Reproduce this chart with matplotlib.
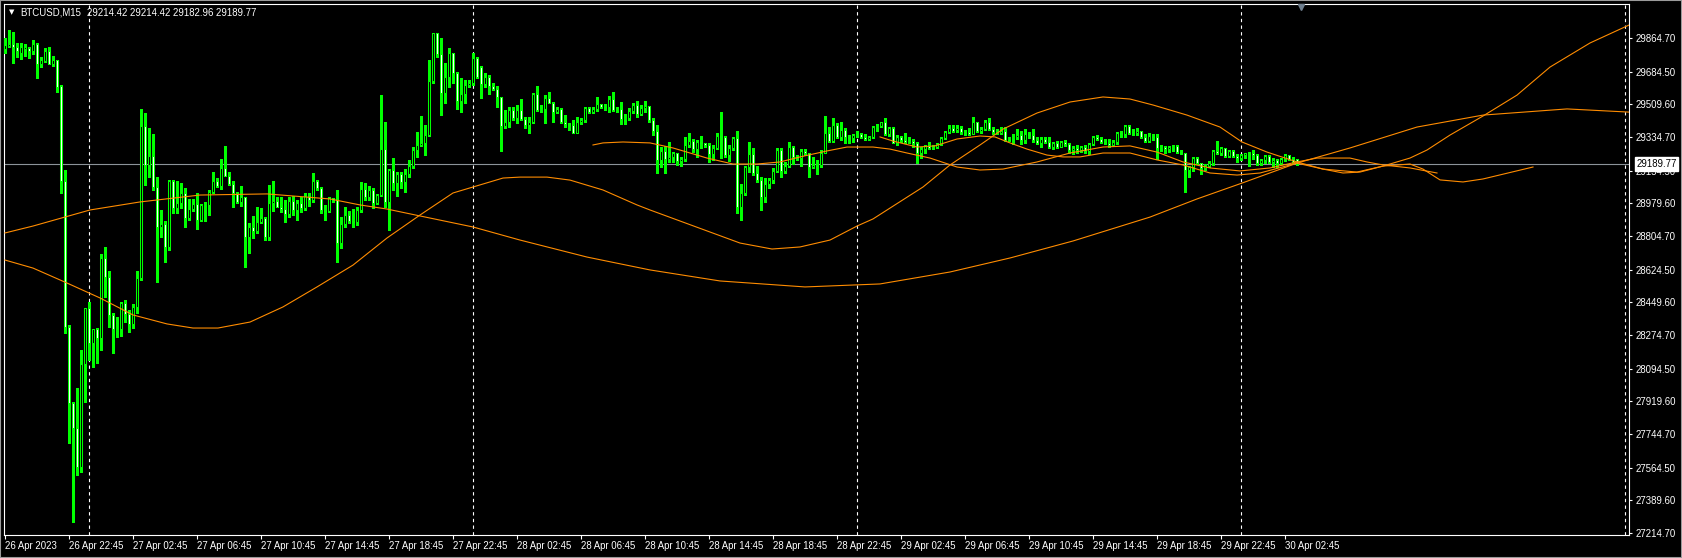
import numpy as np
import matplotlib
matplotlib.use("Agg")
import matplotlib.pyplot as plt
from matplotlib import transforms
from matplotlib.patches import Rectangle

plt.rcParams["font.family"] = ["Liberation Sans", "DejaVu Sans"]

# BTCUSD M15, first bar = 26 Apr 2023 18:45
open_ = [
    29804, 29822, 29831, 29815, 29786, 29807, 29809, 29797, 29833, 29724,
    29743, 29795, 29727, 29748, 29608, 29101, 28316, 27909, 27775, 27570,
    28118, 28417, 28230, 28305, 28257, 28685, 28583, 28382, 28305, 28305,
    28448, 28387, 28332, 28423, 28578, 29395, 29185, 29233, 29069, 28855,
    28869, 28748, 29101, 28953, 28983, 29037, 28899, 28947, 28976, 28890,
    28971, 28971, 29042, 29097, 29074, 29167, 29128, 29083, 29033, 28988,
    29012, 28801, 28855, 28833, 28878, 28899, 28801, 28980, 28994, 28962,
    28947, 28921, 28994, 28944, 28980, 28953, 29021, 28997, 29101, 29060,
    28944, 28940, 29006, 28999, 28769, 28869, 28917, 28885, 28881, 28944,
    29055, 29015, 29051, 28980, 29024, 29269, 28988, 29158, 29087, 29136,
    29096, 29136, 29179, 29265, 29290, 29301, 29345, 29635, 29890, 29777,
    29568, 29654, 29783, 29675, 29529, 29565, 29613, 29622, 29758, 29708,
    29617, 29654, 29608, 29590, 29547, 29395, 29417, 29479, 29435, 29479,
    29432, 29399, 29417, 29565, 29479, 29483, 29542, 29518, 29467, 29485,
    29417, 29403, 29397, 29358, 29414, 29426, 29488, 29470, 29483, 29511,
    29493, 29493, 29536, 29479, 29486, 29431, 29435, 29476, 29506, 29456,
    29492, 29501, 29426, 29367, 29212, 29261, 29215, 29227, 29247, 29208,
    29215, 29292, 29312, 29269, 29306, 29301, 29290, 29244, 29276, 29340,
    29333, 29238, 29276, 29329, 28962, 29033, 29176, 29242, 29140, 29104,
    29015, 29083, 29104, 29153, 29265, 29153, 29179, 29279, 29229, 29221,
    29262, 29247, 29172, 29183, 29187, 29251, 29358, 29315, 29397, 29333,
    29372, 29333, 29328, 29344, 29351, 29333, 29326, 29337, 29387, 29394,
    29413, 29351, 29381, 29304, 29333, 29319, 29310, 29315, 29304, 29251,
    29269, 29287, 29274, 29279, 29297, 29328, 29360, 29381, 29372, 29381,
    29360, 29363, 29351, 29413, 29369, 29376, 29413, 29376, 29363, 29358,
    29369, 29322, 29331, 29336, 29345, 29319, 29351, 29345, 29319, 29304,
    29322, 29310, 29279, 29301, 29279, 29306, 29295, 29265, 29274, 29265,
    29279, 29260, 29297, 29336, 29322, 29310, 29301, 29292, 29310, 29354,
    29350, 29394, 29358, 29354, 29369, 29336, 29315, 29342, 29333, 29274,
    29283, 29269, 29279, 29287, 29256, 29247, 29158, 29172, 29220, 29194,
    29167, 29179, 29197, 29260, 29247, 29274, 29233, 29260, 29233, 29220,
    29238, 29247, 29251, 29238, 29194, 29212, 29233, 29203, 29212, 29197,
    29217, 29238, 29215, 29214.42,
]
high = [
    29863, 29907, 29899, 29836, 29836, 29833, 29818, 29854, 29840, 29761,
    29809, 29815, 29768, 29748, 29611, 29158, 28328, 27918, 27989, 28194,
    28417, 28453, 28305, 28310, 28708, 28744, 28619, 28391, 28369, 28453,
    28462, 28408, 28440, 28619, 29483, 29461, 29381, 29351, 29122, 28944,
    28883, 29105, 29105, 29101, 29091, 29060, 29001, 29001, 29037, 28974,
    28988, 29051, 29149, 29113, 29215, 29287, 29149, 29101, 29042, 29074,
    29012, 28872, 28911, 28958, 28953, 28908, 29078, 29101, 29015, 29015,
    28997, 29015, 29019, 28997, 29015, 29033, 29037, 29140, 29105, 29069,
    28971, 29012, 29008, 29051, 28908, 28962, 28940, 28947, 28962, 29094,
    29087, 29074, 29060, 29030, 29559, 29417, 29162, 29224, 29149, 29149,
    29162, 29211, 29283, 29359, 29447, 29399, 29748, 29893, 29893, 29863,
    29729, 29809, 29783, 29684, 29649, 29640, 29640, 29783, 29765, 29715,
    29675, 29667, 29622, 29608, 29551, 29479, 29493, 29493, 29506, 29538,
    29443, 29443, 29568, 29608, 29506, 29559, 29574, 29524, 29493, 29488,
    29452, 29408, 29426, 29440, 29435, 29493, 29493, 29497, 29547, 29511,
    29511, 29554, 29577, 29493, 29524, 29458, 29488, 29518, 29527, 29506,
    29527, 29501, 29434, 29399, 29279, 29287, 29310, 29256, 29250, 29225,
    29337, 29358, 29322, 29319, 29340, 29304, 29301, 29292, 29354, 29470,
    29340, 29292, 29333, 29369, 29083, 29179, 29310, 29274, 29179, 29119,
    29113, 29113, 29167, 29274, 29274, 29203, 29310, 29287, 29238, 29269,
    29269, 29251, 29229, 29212, 29265, 29447, 29390, 29435, 29411, 29417,
    29381, 29345, 29351, 29369, 29354, 29351, 29340, 29394, 29404, 29417,
    29435, 29390, 29387, 29345, 29340, 29354, 29333, 29322, 29310, 29279,
    29292, 29310, 29292, 29304, 29333, 29367, 29399, 29399, 29399, 29394,
    29372, 29381, 29443, 29417, 29386, 29426, 29435, 29386, 29375, 29386,
    29386, 29336, 29351, 29376, 29369, 29376, 29363, 29376, 29336, 29333,
    29336, 29333, 29310, 29315, 29315, 29319, 29304, 29287, 29292, 29287,
    29292, 29304, 29340, 29345, 29333, 29322, 29322, 29319, 29363, 29369,
    29399, 29399, 29376, 29381, 29369, 29351, 29354, 29351, 29351, 29292,
    29287, 29287, 29292, 29292, 29265, 29251, 29179, 29229, 29229, 29197,
    29190, 29208, 29265, 29315, 29279, 29276, 29265, 29265, 29244, 29244,
    29251, 29256, 29265, 29244, 29215, 29238, 29237, 29220, 29215, 29220,
    29244, 29240, 29226, 29214.42,
]
low = [
    29783, 29818, 29733, 29761, 29750, 29768, 29757, 29779, 29652, 29711,
    29738, 29727, 29716, 29577, 29033, 28284, 27698, 27272, 27525, 27543,
    27918, 28141, 28101, 28123, 28194, 28476, 28316, 28177, 28262, 28269,
    28346, 28292, 28310, 28391, 28569, 29077, 29122, 29051, 28560, 28801,
    28667, 28730, 28926, 28930, 28953, 28855, 28890, 28940, 28840, 28887,
    28885, 28917, 29033, 29069, 29055, 29126, 29078, 28962, 28979, 28965,
    28637, 28715, 28792, 28819, 28872, 28783, 28783, 28940, 28958, 28935,
    28881, 28908, 28917, 28890, 28935, 28944, 28965, 28988, 29051, 28926,
    28890, 28935, 28988, 28667, 28739, 28855, 28872, 28855, 28863, 28935,
    28997, 28997, 28953, 28976, 29019, 28962, 28837, 29051, 29019, 29060,
    29042, 29122, 29167, 29229, 29287, 29238, 29340, 29626, 29765, 29452,
    29515, 29604, 29622, 29483, 29470, 29515, 29604, 29613, 29649, 29542,
    29604, 29565, 29586, 29497, 29261, 29381, 29390, 29426, 29408, 29426,
    29381, 29358, 29411, 29476, 29470, 29408, 29515, 29417, 29461, 29411,
    29390, 29372, 29354, 29354, 29404, 29417, 29465, 29465, 29476, 29488,
    29479, 29470, 29474, 29470, 29404, 29404, 29426, 29461, 29443, 29452,
    29470, 29417, 29345, 29144, 29176, 29144, 29202, 29202, 29184, 29179,
    29206, 29279, 29256, 29229, 29274, 29279, 29203, 29212, 29269, 29220,
    29226, 29206, 29265, 28926, 28890, 29024, 29149, 29131, 29096, 28944,
    28988, 29060, 29090, 29149, 29122, 29140, 29172, 29190, 29212, 29179,
    29238, 29122, 29167, 29137, 29176, 29247, 29310, 29310, 29328, 29319,
    29301, 29304, 29310, 29337, 29328, 29319, 29319, 29328, 29369, 29390,
    29345, 29340, 29301, 29292, 29310, 29301, 29301, 29283, 29194, 29220,
    29251, 29269, 29269, 29274, 29292, 29322, 29354, 29363, 29363, 29351,
    29345, 29345, 29351, 29363, 29358, 29372, 29372, 29351, 29351, 29351,
    29315, 29315, 29297, 29322, 29297, 29301, 29328, 29310, 29297, 29283,
    29301, 29274, 29269, 29274, 29279, 29287, 29247, 29244, 29247, 29256,
    29251, 29244, 29292, 29319, 29304, 29297, 29283, 29287, 29297, 29336,
    29336, 29351, 29345, 29345, 29328, 29310, 29310, 29319, 29215, 29262,
    29251, 29256, 29262, 29251, 29244, 29042, 29122, 29154, 29190, 29137,
    29158, 29172, 29185, 29244, 29238, 29229, 29229, 29229, 29203, 29212,
    29220, 29179, 29215, 29185, 29185, 29197, 29197, 29172, 29176, 29190,
    29208, 29212, 29197, 29182.96,
]
close = [
    29827, 29833, 29815, 29793, 29815, 29816, 29797, 29833, 29724, 29748,
    29795, 29727, 29748, 29604, 29101, 28316, 27909, 27775, 27570, 28118,
    28417, 28230, 28305, 28257, 28685, 28583, 28382, 28305, 28309, 28448,
    28387, 28332, 28423, 28578, 29395, 29185, 29233, 29069, 28855, 28869,
    28748, 29101, 28953, 28983, 29037, 28899, 28947, 28976, 28890, 28971,
    28976, 29042, 29097, 29074, 29167, 29128, 29083, 29033, 28988, 29012,
    28801, 28855, 28833, 28878, 28899, 28801, 28980, 28994, 28962, 28947,
    28921, 28994, 28944, 28980, 28953, 29021, 28997, 29101, 29060, 28944,
    28940, 29006, 28999, 28769, 28869, 28917, 28885, 28881, 28944, 29055,
    29015, 29051, 28980, 29024, 29269, 28988, 29158, 29087, 29136, 29096,
    29136, 29179, 29265, 29292, 29301, 29345, 29635, 29890, 29777, 29568,
    29654, 29783, 29675, 29529, 29565, 29611, 29626, 29758, 29658, 29617,
    29654, 29609, 29590, 29547, 29395, 29417, 29479, 29435, 29479, 29432,
    29399, 29417, 29565, 29479, 29483, 29542, 29518, 29467, 29485, 29417,
    29403, 29397, 29358, 29414, 29426, 29488, 29470, 29486, 29511, 29493,
    29490, 29536, 29479, 29486, 29431, 29435, 29476, 29506, 29456, 29492,
    29501, 29426, 29367, 29212, 29261, 29215, 29227, 29247, 29208, 29215,
    29292, 29312, 29269, 29306, 29301, 29290, 29244, 29276, 29340, 29333,
    29238, 29276, 29329, 28962, 29033, 29176, 29242, 29140, 29104, 29015,
    29083, 29104, 29153, 29265, 29153, 29179, 29279, 29229, 29221, 29262,
    29247, 29172, 29183, 29187, 29251, 29358, 29315, 29397, 29333, 29372,
    29333, 29328, 29344, 29351, 29333, 29326, 29337, 29387, 29394, 29413,
    29351, 29381, 29304, 29333, 29319, 29310, 29315, 29304, 29251, 29269,
    29287, 29274, 29283, 29297, 29328, 29360, 29381, 29369, 29381, 29360,
    29365, 29351, 29413, 29369, 29376, 29413, 29376, 29363, 29354, 29369,
    29319, 29331, 29336, 29345, 29319, 29351, 29345, 29319, 29304, 29322,
    29310, 29279, 29301, 29279, 29306, 29295, 29265, 29274, 29265, 29279,
    29260, 29297, 29336, 29322, 29310, 29301, 29292, 29310, 29354, 29350,
    29394, 29358, 29354, 29369, 29336, 29315, 29342, 29333, 29274, 29283,
    29269, 29279, 29287, 29256, 29247, 29158, 29172, 29220, 29194, 29167,
    29179, 29197, 29260, 29247, 29274, 29233, 29260, 29233, 29220, 29238,
    29247, 29251, 29238, 29194, 29212, 29233, 29203, 29212, 29197, 29217,
    29238, 29215, 29203, 29189.77,
]

# indicator lines (bar position, price)
curve_a_x = [0, 7, 15.5, 23.75, 32, 40.5, 47, 53.25, 61.25, 69.5,
             78, 87, 95.5, 103.75, 112, 117, 124.5, 128.75, 135.5, 141.25,
             149.5, 158, 161.25, 176.25, 183.75, 191.75, 198.75, 206.25, 213, 217,
             229.5, 236.25, 243.75, 249.5, 258, 266.25, 274.5, 281.25, 287, 295.5,
             303.75, 309.25, 315.5, 323, 329.5, 334.5, 338.75, 344.5, 351.25, 355.5,
             361.25, 369.5, 378, 386.25, 396.25, 406]
curve_a_y = [28676, 28633, 28553, 28473, 28382, 28334, 28312, 28312, 28344, 28425,
             28532, 28649, 28794, 28917, 29035, 29067, 29115, 29120, 29120, 29104,
             29051, 28971, 28944, 28826, 28767, 28735, 28746, 28783, 28858, 28896,
             29067, 29185, 29292, 29377, 29463, 29522, 29549, 29538, 29506, 29452,
             29388, 29308, 29254, 29201, 29163, 29142, 29147, 29179, 29222, 29265,
             29345, 29447, 29559, 29709, 29838, 29934]
curve_b_x = [0, 7, 21.25, 33.75, 48.75, 65.5, 81.25, 88.75, 95.5, 103.75,
             117, 128.75, 145.5, 161.25, 178.75, 200, 218.75, 236.25, 251.25, 267,
             286.25, 298, 309.25, 323, 336.25, 353, 369.5, 390.5, 406]
curve_b_y = [28821, 28858, 28944, 28987, 29024, 29030, 29003, 28971, 28949, 28912,
             28853, 28783, 28692, 28623, 28564, 28532, 28548, 28612, 28687, 28778,
             28906, 29003, 29088, 29195, 29276, 29388, 29452, 29485, 29468]
curve_c_x = [147, 149.5, 154.5, 161.25, 167, 171.25, 175.5, 182, 188, 193.75,
             198.75, 205.5, 210.5, 217, 221.25, 225.5, 231.25, 238, 243.75, 249.5,
             258, 266.25, 274.5, 281.25, 288, 294.5, 301.25, 308.75, 316.25, 323,
             328, 336.25, 340.5, 344.5, 351.25, 358]
curve_c_y = [29292, 29303, 29308, 29303, 29276, 29249, 29222, 29190, 29190, 29201,
             29228, 29260, 29281, 29281, 29270, 29249, 29222, 29174, 29158, 29163,
             29201, 29249, 29281, 29287, 29254, 29201, 29169, 29153, 29169, 29201,
             29222, 29222, 29201, 29185, 29169, 29142]
curve_d_x = [218.75, 222, 228, 232.5, 238, 243.75, 247.5, 251.25, 255.5, 260.5,
             264.5, 268.75, 274.5, 281.25, 288, 294.5, 301.25, 308, 313.75, 323,
             329.5, 338, 344.5, 351.25, 354.5, 358.75, 364.5, 369.5, 382]
curve_d_y = [29335, 29313, 29281, 29287, 29324, 29340, 29335, 29303, 29270, 29238,
             29228, 29228, 29249, 29249, 29212, 29185, 29142, 29131, 29142, 29195,
             29163, 29147, 29179, 29190, 29163, 29105, 29094, 29110, 29174]

x_labels = ["26 Apr 2023", "26 Apr 22:45", "27 Apr 02:45", "27 Apr 06:45",
            "27 Apr 10:45", "27 Apr 14:45", "27 Apr 18:45", "27 Apr 22:45",
            "28 Apr 02:45", "28 Apr 06:45", "28 Apr 10:45", "28 Apr 14:45",
            "28 Apr 18:45", "28 Apr 22:45", "29 Apr 02:45", "29 Apr 06:45",
            "29 Apr 10:45", "29 Apr 14:45", "29 Apr 18:45", "29 Apr 22:45",
            "30 Apr 02:45"]
price_ticks = [27214.70, 27389.60, 27564.50, 27744.70, 27919.60, 28094.50,
               28274.70, 28449.60, 28624.50, 28804.70, 28979.60, 29154.50,
               29334.70, 29509.60, 29684.50, 29864.70]
day_breaks = [21, 117, 213, 309, 405]
last_price = 29189.77
header_vals = "29214.42 29214.42 29182.96 29189.77"

GREEN = "#00ff00"
ORANGE = "#ff8c00"
FS = 6.9

fig = plt.figure(figsize=(16.82, 5.58), dpi=100)
fig.patch.set_facecolor("black")
ax = fig.add_axes([4 / 1682, 23 / 558, 1625 / 1682, 531 / 558])
ax.set_facecolor("black")
ax.set_xlim(-0.25, 406)
ax.set_ylim(27204.0, 30046.7)

# day separators + current price line
for b in day_breaks:
    ax.axvline(b, color="white", lw=0.8, ls=(0, (3, 3)), zorder=1)
ax.axhline(last_price, color="#8c9399", lw=0.8, zorder=2)

# candles
o = np.array(open_); c = np.array(close)
h = np.array(high); l = np.array(low)
idx = np.arange(len(c))
ax.vlines(idx, l, h, color=GREEN, lw=0.8, zorder=3, antialiased=False)
bull = c >= o
bot = np.minimum(o, c); hgt = np.abs(c - o)
ax.bar(idx[bull], hgt[bull], bottom=bot[bull], width=0.5, facecolor="black",
       edgecolor=GREEN, lw=0.75, zorder=4)
ax.bar(idx[~bull], hgt[~bull], bottom=bot[~bull], width=0.5, facecolor="white",
       edgecolor=GREEN, lw=0.75, zorder=4)

# indicator curves
for xs, ys in [(curve_a_x, curve_a_y), (curve_b_x, curve_b_y),
               (curve_c_x, curve_c_y), (curve_d_x, curve_d_y)]:
    ax.plot(xs, ys, color=ORANGE, lw=0.8, zorder=5, solid_joinstyle="round")

# axes styling
for sp in ax.spines.values():
    sp.set_color("white"); sp.set_linewidth(0.8)
ax.set_xticks(np.arange(0, 16 * len(x_labels), 16))
ax.set_xticklabels(x_labels, ha="left")
ax.tick_params(axis="x", colors="white", length=3, width=0.8, pad=1.5, labelsize=FS)
ax.yaxis.tick_right()
ax.set_yticks(price_ticks)
ax.set_yticklabels([f"{p:.2f}" for p in price_ticks])
ax.tick_params(axis="y", colors="white", length=2.5, width=0.8, pad=2.2, labelsize=FS)

# last price box on the scale
blend = transforms.blended_transform_factory(ax.transAxes, ax.transData)
ax.text(1.0045, last_price, f"{last_price:.2f}", transform=blend, ha="left",
        va="center", fontsize=FS, color="black", clip_on=False, zorder=10,
        bbox=dict(boxstyle="square,pad=0.18", facecolor="white", edgecolor="white"))

# chart shift marker
blend2 = transforms.blended_transform_factory(ax.transData, ax.transAxes)
ax.plot([len(c)], [0.994], marker="v", color="#6f7f8f", markersize=5,
        transform=blend2, clip_on=False, zorder=10)

# header
fig.text(12 / 1682, 1 - 12.5 / 558, "\u25bc", color="white", fontsize=5,
         family="DejaVu Sans", ha="center", va="center")
fig.text(20.5 / 1682, 1 - 12.7 / 558, "BTCUSD,M15", color="white", fontsize=FS,
         ha="left", va="center")
fig.text(87 / 1682, 1 - 12.7 / 558, header_vals, color="white", fontsize=FS,
         ha="left", va="center")

# window frame
fig.add_artist(Rectangle((0, 0), 1, 1, transform=fig.transFigure, fill=False,
                         edgecolor="#9a9a9a", lw=1.5))

plt.savefig("out.png", dpi=100, facecolor="black")
plt.close()
